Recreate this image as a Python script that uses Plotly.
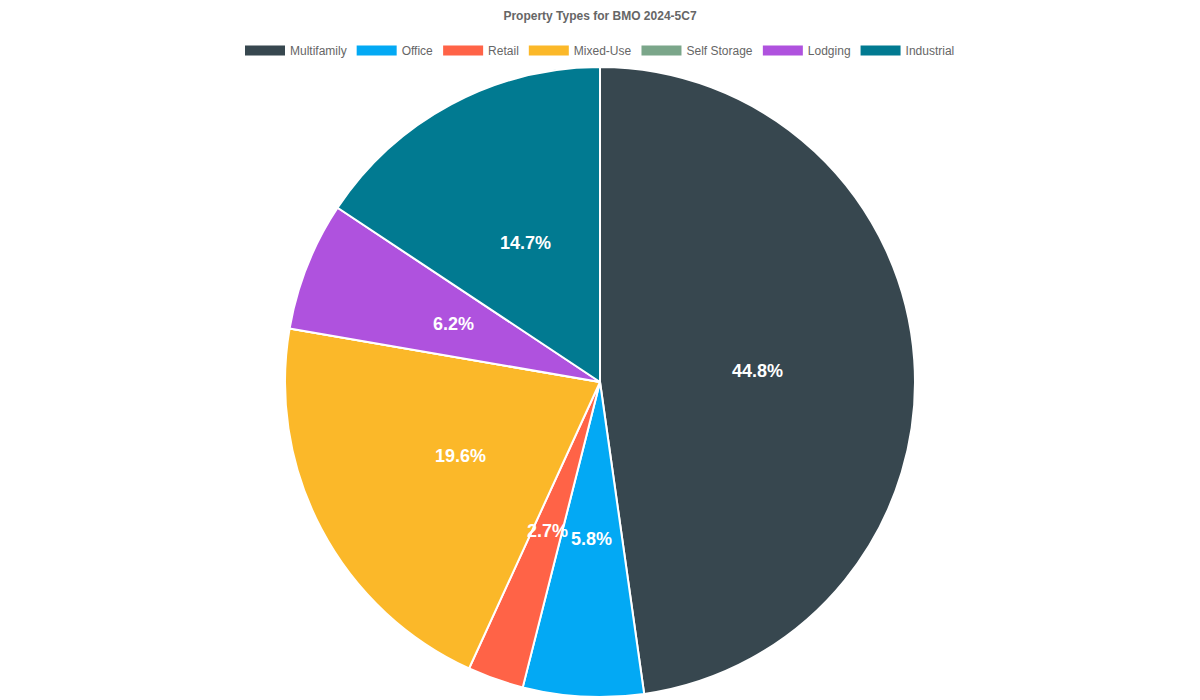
import math
import plotly.graph_objects as go

categories = ["Multifamily", "Office", "Retail", "Mixed-Use", "Self Storage", "Lodging", "Industrial"]
shares = [44.8, 5.8, 2.7, 19.6, 0.0, 6.2, 14.7]
colors = ["#37474F", "#03A9F4", "#FF6347", "#FBB829", "#7BA68A", "#AF52DE", "#017A91"]

# the page body adds an 8px margin, so the figure is sized/offset to compensate
W, H = 1192, 692
M = dict(l=0, r=8, t=59, b=3)
FONT = "Liberation Sans, Arial, sans-serif"
CX = (W - 8) / 2 / W  # horizontal centre of the 1200px page, in container units

fig = go.Figure()
fig.add_trace(go.Pie(
    labels=categories, values=shares, sort=False, direction="clockwise",
    marker=dict(colors=colors, line=dict(color="#FFFFFF", width=2)),
    textinfo="none", showlegend=False, hoverinfo="label+percent",
    domain=dict(x=[0, 1], y=[0, 1]),
))
for c, col in zip(categories, colors):
    fig.add_trace(go.Scatter(x=[None], y=[None], mode="lines", name=c,
                             line=dict(color=col, width=10), showlegend=True, hoverinfo="skip"))

# percentage labels at half radius, mid-angle of each slice
pw, ph = W - M["l"] - M["r"], H - M["t"] - M["b"]
R = min(pw, ph) / 2
total = sum(shares)
cum = 0.0
for v in shares:
    if v > 0:
        ang = 2 * math.pi * (cum + v / 2) / total
        ax = 0.5 + 0.5 * R * math.sin(ang) / pw
        ay = 0.5 + 0.5 * R * math.cos(ang) / ph
        fig.add_annotation(x=ax, y=ay, xref="paper", yref="paper", showarrow=False,
                           xanchor="center", yanchor="middle",
                           text=f"<b>{v:.1f}%</b>",
                           font=dict(family=FONT, size=18, color="#FFFFFF"))
    cum += v

fig.update_layout(
    width=W, height=H,
    paper_bgcolor="#FFFFFF", plot_bgcolor="rgba(0,0,0,0)",
    margin=dict(**M, autoexpand=False),
    title=dict(text="<b>Property Types for BMO 2024-5C7</b>", x=CX, xref="container", xanchor="center",
               y=1 - 8 / H, yanchor="middle",
               font=dict(family=FONT, size=12, color="#666666")),
    legend=dict(orientation="h", x=CX, xref="container", xanchor="center",
                y=1 - 28 / H, yref="container", yanchor="top",
                font=dict(family=FONT, size=12, color="#666666"),
                itemwidth=40, traceorder="normal"),
    xaxis=dict(visible=False), yaxis=dict(visible=False),
)
fig.write_html("out.html")
